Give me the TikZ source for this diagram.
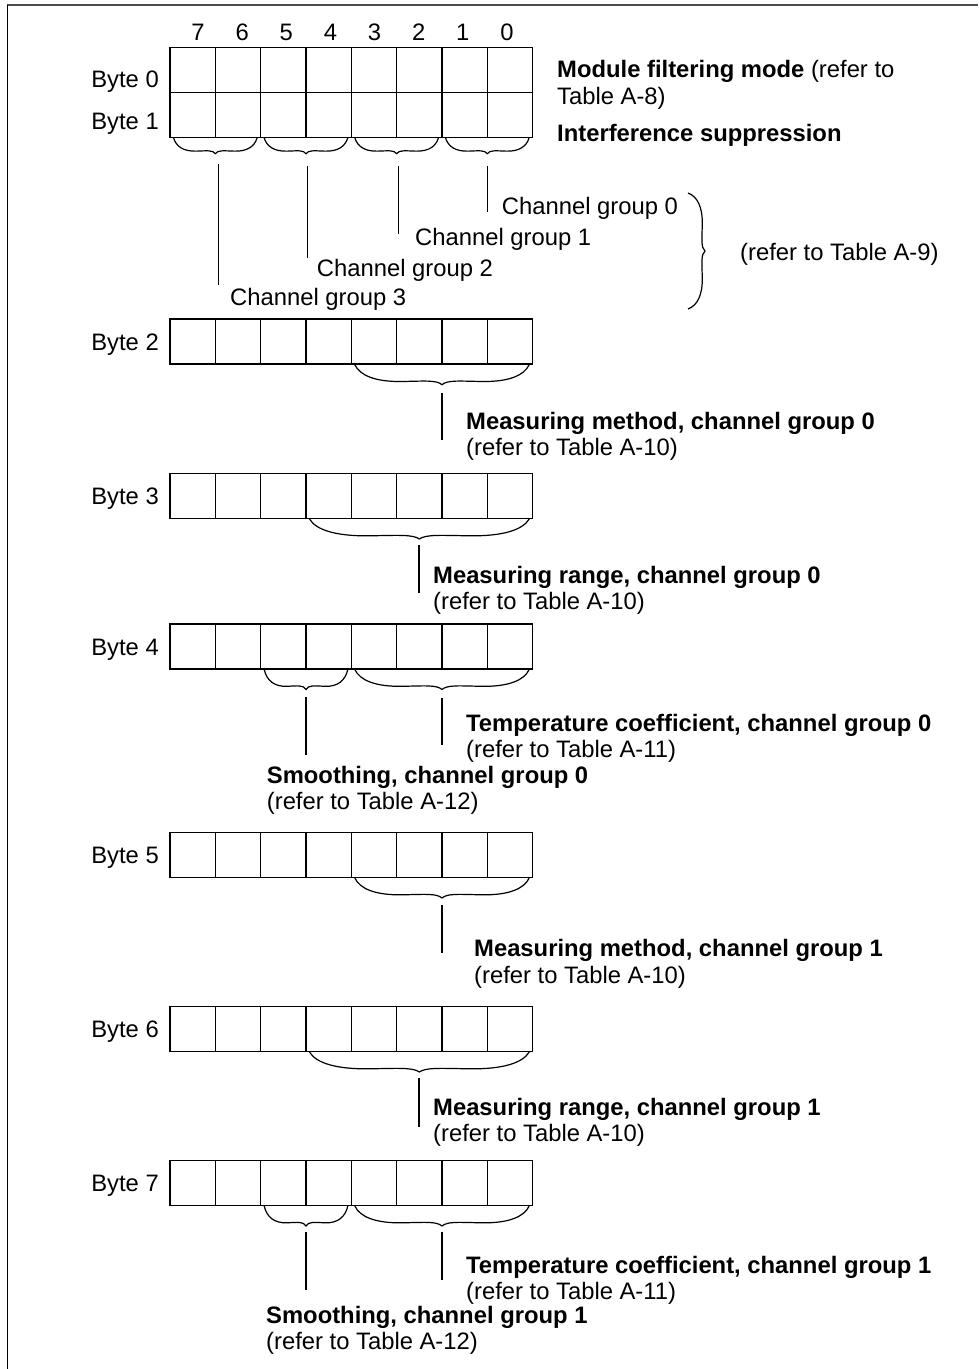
\documentclass[tikz,border=0pt]{standalone}
\usepackage{fontspec}
\setmainfont{Liberation Sans}
\begin{document}
\begin{tikzpicture}[x=1pt,y=-1pt,
  cell/.style={draw, line width=1.4pt, minimum width=45.33pt, minimum height=45pt, inner sep=0pt, outer sep=0pt, anchor=north west},
  lbl/.style={anchor=base west, inner sep=0pt},
  bytelbl/.style={anchor=base east, inner sep=0pt},
  digit/.style={anchor=base, inner sep=0pt},
  lead/.style={line width=1.2pt},
  brc/.style={line width=1.2pt},
  hbr/.pic={\draw[brc] (0,0) .. controls (0.03,0.55) and (0.12,0.86) .. (0.27,0.84) .. controls (0.4,0.82) and (0.47,0.76) .. (0.5,1) .. controls (0.53,0.76) and (0.6,0.82) .. (0.73,0.84) .. controls (0.88,0.86) and (0.97,0.55) .. (1,0);},
  vbr/.pic={\draw[brc] (0,0) .. controls (0.55,0.03) and (0.86,0.12) .. (0.84,0.27) .. controls (0.82,0.4) and (0.76,0.47) .. (1,0.5) .. controls (0.76,0.53) and (0.82,0.6) .. (0.84,0.73) .. controls (0.86,0.88) and (0.55,0.97) .. (0,1);},
]
\fontsize{23.8}{28}\selectfont
\useasboundingbox (0,0) rectangle (978,1369);
% frame
\draw[line width=1.4pt, black!70] (7,5) -- (978,5);
\draw[line width=1.5pt] (7.5,4.5) -- (7.5,1369);
\newcommand\mybrace[4]{\pic[xscale={(#2)-(#1)-7}, yscale=#4] at ({(#1)+3.5},#3) {hbr};}
% bit numbers
\foreach \d [count=\k from 0] in {7,6,5,4,3,2,1,0}
  \node[digit] (bit\d) at ({198+44.14*\k},40.7) {\d};
% byte 0 and 1
\foreach \r/\top in {0/47.7, 1/92.7}{
  \foreach \i in {0,...,7}
    \node[cell] (b\r c\i) at ({170+45.33*\i},\top) {};
}
\node[bytelbl] (l0) at (159,87) {Byte 0};
\node[bytelbl] (l1) at (159,129.5) {Byte 1};
\node[lbl] (mfm) at (557,77) {\textbf{Module filtering mode} (refer to};
\node[lbl] (mfm2) at (557,104) {Table A-8)};
\node[lbl] (ifs) at (557,141) {\textbf{Interference suppression}};
\foreach \k in {0,2,4,6}
  \mybrace{170+45.33*\k}{170+45.33*(\k+2)}{137.7}{16}
% channel group leaders
\coordinate (g0a) at (487.3,166); \coordinate (g0b) at (487.3,212);
\coordinate (g1a) at (398.7,166); \coordinate (g1b) at (398.7,234);
\coordinate (g2a) at (307.7,166); \coordinate (g2b) at (307.7,258);
\coordinate (g3a) at (218.5,164); \coordinate (g3b) at (218.5,285);
\foreach \g in {0,1,2,3} \draw[lead] (g\g a) -- (g\g b);
\node[lbl] (cg0) at (501.7,214) {Channel group 0};
\node[lbl] (cg1) at (415,245) {Channel group 1};
\node[lbl] (cg2) at (316.7,276) {Channel group 2};
\node[lbl] (cg3) at (230,305) {Channel group 3};
\pic[xscale=17, yscale=116] at (688,193) {vbr};
\node[lbl] (a9) at (740,260) {(refer to Table A-9)};
% bytes 2..7
\foreach \r/\top in {2/319, 3/473.5, 4/624, 5/832.5, 6/1006.5, 7/1160.5}{
  \foreach \i in {0,...,7}
    \node[cell] (b\r c\i) at ({170+45.33*\i},\top) {};
  \node[bytelbl] (l\r) at (159,{\top+31}) {Byte \r};
}
% byte 2
\mybrace{351.3}{532.7}{364.7}{20}
\coordinate (m0a) at (442,393); \coordinate (m0b) at (442,440);
\draw[lead] (m0a) -- (m0b);
\node[lbl] (mm0) at (466,429) {\textbf{Measuring method, channel group 0}};
\node[lbl] (mm0r) at (466,455) {(refer to Table A-10)};
% byte 3
\mybrace{306}{532.7}{519}{20}
\coordinate (r0a) at (419,545); \coordinate (r0b) at (419,593);
\draw[lead] (r0a) -- (r0b);
\node[lbl] (mr0) at (433,583) {\textbf{Measuring range, channel group 0}};
\node[lbl] (mr0r) at (433,609) {(refer to Table A-10)};
% byte 4
\mybrace{260.7}{351.3}{669.5}{20}
\mybrace{351.3}{532.7}{669.5}{20}
\coordinate (s0a) at (306,697); \coordinate (s0b) at (306,755);
\coordinate (t0a) at (442,698); \coordinate (t0b) at (442,745);
\draw[lead] (s0a) -- (s0b);
\draw[lead] (t0a) -- (t0b);
\node[lbl] (tc0) at (466,731) {\textbf{Temperature coefficient, channel group 0}};
\node[lbl] (tc0r) at (466,757) {(refer to Table A-11)};
\node[lbl] (sm0) at (266.7,783.3) {\textbf{Smoothing, channel group 0}};
\node[lbl] (sm0r) at (266.7,809) {(refer to Table A-12)};
% byte 5
\mybrace{351.3}{532.7}{878}{20}
\coordinate (m1a) at (442,905); \coordinate (m1b) at (442,953);
\draw[lead] (m1a) -- (m1b);
\node[lbl] (mm1) at (474,956) {\textbf{Measuring method, channel group 1}};
\node[lbl] (mm1r) at (474,983) {(refer to Table A-10)};
% byte 6
\mybrace{306}{532.7}{1052}{20}
\coordinate (r1a) at (419,1078); \coordinate (r1b) at (419,1127);
\draw[lead] (r1a) -- (r1b);
\node[lbl] (mr1) at (433,1115) {\textbf{Measuring range, channel group 1}};
\node[lbl] (mr1r) at (433,1141) {(refer to Table A-10)};
% byte 7
\mybrace{260.7}{351.3}{1206}{20}
\mybrace{351.3}{532.7}{1206}{20}
\coordinate (s1a) at (306,1232); \coordinate (s1b) at (306,1290);
\coordinate (t1a) at (442,1232); \coordinate (t1b) at (442,1280);
\draw[lead] (s1a) -- (s1b);
\draw[lead] (t1a) -- (t1b);
\node[lbl] (tc1) at (466,1273) {\textbf{Temperature coefficient, channel group 1}};
\node[lbl] (tc1r) at (466,1299) {(refer to Table A-11)};
\node[lbl] (sm1) at (266,1323) {\textbf{Smoothing, channel group 1}};
\node[lbl] (sm1r) at (266,1349) {(refer to Table A-12)};
\end{tikzpicture}
\end{document}
